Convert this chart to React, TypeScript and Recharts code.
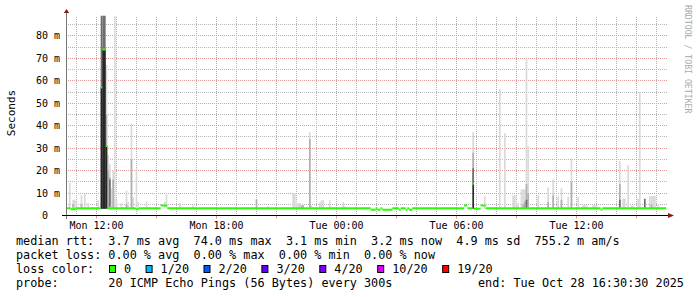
import React from 'react';
import { ComposedChart, Bar, Line, XAxis, YAxis, CartesianGrid, ReferenceLine, ReferenceDot } from 'recharts';

// x = 5 minute steps since Mon 10:30 (360 steps = 30 h), y = milliseconds
const stepTicks = [18, 90, 162, 234, 306];
const tickLabels = ['Mon 12:00', 'Mon 18:00', 'Tue 00:00', 'Tue 06:00', 'Tue 12:00'];
const msTicks = [0, 10, 20, 30, 40, 50, 60, 70, 80];
const gridMs = [5, 10, 15, 20, 25, 30, 35, 40, 45, 50, 55, 60, 65, 70, 75, 80, 85];

// median rtt: [first step, ms] - value holds until the next entry
const medianRuns: [number, number][] = [
  [0, 3.2], [3, 2.8], [6, 3.2], [21, 57], [22, 74], [24, 31], [25, 3.2],
  [42, 2.8], [44, 3.2], [57, 4.5], [61, 3.2],
  [183, 2.6], [186, 3.2], [187, 2.6], [189, 3.2], [190, 2.6], [196, 3.2],
  [200, 2.6], [201, 3.2], [204, 2.6], [205, 3.2], [206, 2.6], [208, 3.2],
  [239, 4.4], [241, 3.2], [244, 14.2], [245, 3.0], [249, 4.4], [252, 3.2],
  [321, 2.6], [322, 3.2],
];

// smoke bands: [step, low ms, high ms]
const smokeLight: [number, number, number][] = [
  [2, 3, 14.5], [4, 3, 7], [5, 3, 7], [6, 3, 6], [9, 3, 9], [11, 3, 10], [13, 3, 5.5],
  [19, 3, 6.8], [24, 3, 67], [25, 3, 27], [26, 3, 23], [27, 3, 12], [28, 3, 20],
  [29, 3, 89.1], [30, 3, 7], [33, 3, 5.5], [36, 3, 11], [37, 3, 6], [39, 3, 41],
  [40, 3, 8], [42, 3, 21], [43, 3, 6], [48, 3, 6.4], [59, 3.5, 6], [60, 3.5, 10],
  [68, 3, 5.5], [76, 3, 4.6], [121, 3, 4.1], [136, 3, 10], [137, 3, 10],
  [138, 3, 5.6], [139, 3, 5.6], [140, 3, 5.6], [146, 3, 37.2], [147, 3, 4.6],
  [152, 3, 5.8], [153, 3, 6.8], [154, 3, 6.8], [158, 3, 6.8], [166, 3, 5.9], [167, 3, 4],
  [244, 14.5, 37.2], [251, 3, 8.6], [260, 3, 56.3], [263, 3, 36.6], [268, 3, 9],
  [269, 3, 9], [270, 3, 5.6], [271, 3, 5.6], [273, 3, 11.7], [274, 3, 11.7],
  [275, 3, 11.7], [276, 3, 70.4], [277, 3, 30.9], [283, 3, 9], [289, 3, 12.5],
  [292, 3, 16.2], [295, 3, 8.6], [297, 3, 12.3], [301, 3, 8.3], [303, 3, 25.4],
  [307, 3, 8.3], [310, 3, 4.6], [311, 3, 4.6], [312, 3, 4.6], [316, 3, 4.6],
  [317, 3, 4.6], [318, 3, 4.6], [332, 3, 24.3], [334, 3, 7.6], [335, 3, 7.6],
  [337, 3, 22.4], [339, 3, 4.4], [340, 3, 4.4], [343, 3, 7.6], [344, 3, 55],
  [350, 3, 8.7], [351, 3, 8.7], [352, 3, 8.7], [353, 3, 8.7], [355, 3, 5],
];
const smokeMid: [number, number, number][] = [
  [4, 3, 5], [9, 3, 5], [24, 3, 45], [25, 3, 20], [26, 3, 17], [28, 3, 16], [36, 3, 5],
  [39, 3, 25], [114, 3, 7.2], [141, 3, 4.6], [142, 3, 4.6], [146, 3, 34],
  [244, 14.5, 28], [274, 3, 5], [275, 3, 6], [276, 3, 14], [277, 3, 10], [289, 3, 6],
  [292, 3, 9], [297, 3, 7], [303, 3, 15], [332, 3, 14], [351, 3, 5],
];
const smokeDarker: [number, number, number][] = [
  [21, 3, 89.1], [22, 3, 89.1], [23, 3, 89.1], [26, 4, 16], [244, 14.5, 21],
  [276, 3, 7], [332, 3, 7], [347, 3, 7.5],
];
const smokeDark: [number, number, number][] = [
  [21, 3, 57], [22, 3, 74], [23, 3, 74], [24, 3, 31], [244, 3, 14.5],
];

const lossColors = ['#26ff00', '#00b8ff', '#0059ff', '#5e00ff', '#7e00ff', '#dd00ff', '#ff0000'];
const lossLabels = ['0', '1/20', '2/20', '3/20', '4/20', '10/20', '19/20'];

const legendLines = [
  'median rtt:  3.7 ms avg  74.0 ms max  3.1 ms min  3.2 ms now  4.9 ms sd  755.2 m am/s',
  'packet loss: 0.00 % avg  0.00 % max  0.00 % min  0.00 % now',
];

const W = 697;
const H = 297;
const mono = "'DejaVu Sans Mono', monospace";
const pre: React.CSSProperties = { whiteSpace: 'pre' };
const GRID = '#b4b4b4';
const MGRID = '#e09a9a';

const layers: [string, [number, number, number][]][] = [
  ['light', smokeLight], ['mid', smokeMid], ['darker', smokeDarker], ['dark', smokeDark],
];
const rowsByStep: Record<number, any> = {};
layers.forEach(([key, list]) =>
  list.forEach(([k, lo, hi]) => {
    if (!rowsByStep[k]) rowsByStep[k] = { k };
    rowsByStep[k][key] = [lo, hi];
  })
);
const smokeRows = Object.values(rowsByStep).sort((a: any, b: any) => a.k - b.k);

// horizontal pieces only, no vertical connectors
const medianData: any[] = [];
medianRuns.forEach(([k, v], i) => {
  const end = i + 1 < medianRuns.length ? medianRuns[i + 1][0] - 0.5 : 360;
  medianData.push({ k: Math.max(0, k - 0.5), v }, { k: end, v }, { k: end, v: null });
});

const hourSteps = Array.from({ length: 30 }, (_, i) => 6 + 12 * i);
const majorSteps = hourSteps.filter(k => (k - 18) % 36 === 0);

const gridLine = (major: boolean, p: any) => (
  <line
    key={p.key}
    x1={p.x1}
    y1={p.y1}
    x2={p.x2}
    y2={p.y2}
    stroke={major ? MGRID : GRID}
    strokeWidth={1}
    strokeDasharray="1 1"
    strokeDashoffset={0.5}
    shapeRendering="crispEdges"
  />
);
const hLine = (p: any) => gridLine(gridMs[p.index] % 10 === 0, p);
const vLine = (p: any) => gridLine((hourSteps[p.index] - 18) % 36 === 0, p);

const UpArrow = (p: any) => (
  <path d={`M${p.cx - 2.7},${p.cy - 2.5} L${p.cx + 2.7},${p.cy - 2.5} L${p.cx},${p.cy - 6.5} Z`} fill="#8b1a1a" />
);
const RightArrow = (p: any) => (
  <path d={`M${p.cx + 1.5},${p.cy - 2.5} L${p.cx + 1.5},${p.cy + 2.5} L${p.cx + 7.5},${p.cy} Z`} fill="#8b1a1a" />
);

export default function App() {
  let bx = 109;
  const boxes = lossLabels.map((lab, i) => {
    const x = bx;
    bx += 29.5 + lab.length * 7.1;
    return (
      <g key={lab}>
        <rect x={x + 0.5} y={265.5} width={6} height={7} fill={lossColors[i]} stroke="#000" strokeWidth={1} />
        <text x={x + 15} y={273}>{lab}</text>
      </g>
    );
  });

  return (
    <div style={{ position: 'absolute', left: 0, top: 0, width: W, height: H, background: '#fff' }}>
      <ComposedChart width={W} height={H} data={smokeRows} margin={{ top: 15.5, right: 30.5, bottom: 0, left: 0 }}>
        <CartesianGrid
          horizontal={hLine}
          vertical={vLine}
          horizontalValues={gridMs}
          verticalValues={hourSteps}
          syncWithTicks={false}
        />
        <XAxis
          dataKey="k"
          type="number"
          domain={[0, 360]}
          allowDataOverflow
          ticks={stepTicks}
          interval={0}
          tickFormatter={(v: number) => tickLabels[stepTicks.indexOf(v)]}
          height={81.5}
          axisLine={false}
          tickLine={false}
          tickSize={0}
          tickMargin={6}
          tick={{ fontSize: 10, fontFamily: mono, fill: '#000' }}
        />
        {['l', 'm', 'dk', 'd'].map(id => (
          <XAxis key={id} xAxisId={id} dataKey="k" type="number" domain={[0, 360]} allowDataOverflow hide />
        ))}
        <YAxis
          type="number"
          width={66.5}
          domain={[0, 89.1]}
          allowDataOverflow
          ticks={msTicks}
          interval={0}
          tickFormatter={(v: number) => (v === 0 ? '0\u00a0\u00a0' : `${v} m`)}
          axisLine={false}
          tickLine={false}
          tickSize={0}
          tickMargin={6.5}
          tick={{ fontSize: 10, fontFamily: mono, fill: '#000' }}
        />
        <Bar xAxisId="l" dataKey="light" fill="#d9d9d9" barSize={1.65} isAnimationActive={false} />
        <Bar xAxisId="m" dataKey="mid" fill="#b0b0b0" barSize={1.65} isAnimationActive={false} />
        <Bar xAxisId="dk" dataKey="darker" fill="#6e6e6e" barSize={1.65} isAnimationActive={false} />
        <Bar xAxisId="d" dataKey="dark" fill="#262626" barSize={1.65} isAnimationActive={false} />
        <Line
          data={medianData}
          dataKey="v"
          type="linear"
          stroke="#26ff00"
          strokeWidth={2}
          dot={false}
          activeDot={false}
          connectNulls={false}
          isAnimationActive={false}
        />
        {majorSteps.map(k => (
          <ReferenceLine key={k} segment={[{ x: k, y: 0 }, { x: k, y: -1.4 }]} stroke={MGRID} ifOverflow="visible" />
        ))}
        <ReferenceLine segment={[{ x: 0, y: -1.6 }, { x: 0, y: 90.3 }]} stroke="#777" ifOverflow="visible" />
        <ReferenceLine segment={[{ x: -2.7, y: 0 }, { x: 361, y: 0 }]} stroke="#000" ifOverflow="visible" />
        <ReferenceDot x={0} y={89.1} ifOverflow="visible" shape={UpArrow} />
        <ReferenceDot x={360} y={0} ifOverflow="visible" shape={RightArrow} />
      </ComposedChart>
      <svg width={W} height={H} style={{ position: 'absolute', left: 0, top: 0, pointerEvents: 'none' }}>
        <text transform="translate(15,113) rotate(-90)" textAnchor="middle" fontFamily={mono} fontSize={11} fill="#000">
          Seconds
        </text>
        <text transform="translate(685,5) rotate(90)" fontFamily={mono} fontSize={8.2} fill="#aaaaaa">
          RRDTOOL / TOBI OETIKER
        </text>
        <g fontFamily={mono} fontSize={11.8} fill="#000">
          {legendLines.map((t, i) => (
            <text key={i} x={16} y={245 + i * 14} xmlSpace="preserve" style={pre}>{t}</text>
          ))}
          <text x={16} y={273}>loss color:</text>
          {boxes}
          <text x={16} y={287} xmlSpace="preserve" style={pre}>probe:       20 ICMP Echo Pings (56 Bytes) every 300s</text>
          <text x={478} y={287}>end: Tue Oct 28 16:30:30 2025</text>
        </g>
      </svg>
    </div>
  );
}
